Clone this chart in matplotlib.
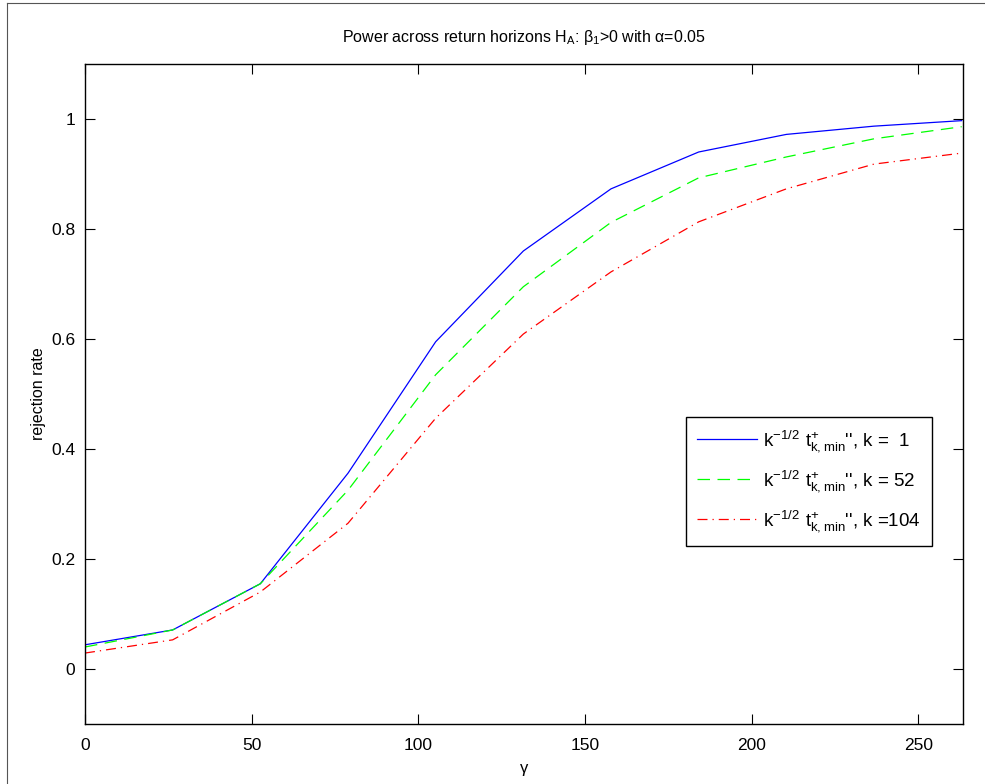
# power across return horizons, rejection rate vs gamma
import numpy as np
import matplotlib.pyplot as plt
from matplotlib.lines import Line2D

plt.rcParams['font.family'] = ['Liberation Sans', 'DejaVu Sans']
plt.rcParams['mathtext.default'] = 'regular'

gamma = [0, 26.3, 52.6, 78.9, 105.2, 131.5, 157.8, 184.1, 210.4, 236.7, 263]
rej_k1 = [0.044, 0.071, 0.155, 0.356, 0.595, 0.760, 0.873, 0.940, 0.972, 0.987, 0.997]
rej_k52 = [0.040, 0.071, 0.155, 0.325, 0.535, 0.695, 0.812, 0.893, 0.931, 0.964, 0.986]
rej_k104 = [0.029, 0.053, 0.140, 0.265, 0.456, 0.609, 0.722, 0.813, 0.873, 0.918, 0.938]
labels = [r"$k^{-1/2}\ t^{+}_{k,min}$'', k =  1",
          r"$k^{-1/2}\ t^{+}_{k,min}$'', k = 52",
          r"$k^{-1/2}\ t^{+}_{k,min}$'', k =104"]

fig = plt.figure(figsize=(9.85, 7.84), dpi=100)
ax = fig.add_axes([85/985, 60/784, 878/985, 660/784])

ax.plot(gamma, rej_k1, '-', color='#0000ff', lw=0.9, label=labels[0])
ax.plot(gamma, rej_k52, '--', color='#00ff00', lw=0.9, dashes=(10, 6), label=labels[1])
ax.plot(gamma, rej_k104, '-.', color='#ff0000', lw=0.9, dashes=(8, 4, 1, 4), label=labels[2])

ax.set_xlim(0, 263.4)
ax.set_ylim(-0.1, 1.1)
ax.set_xticks([0, 50, 100, 150, 200, 250])
ax.set_yticks([0, 0.2, 0.4, 0.6, 0.8, 1])
ax.set_yticklabels(['0', '0.2', '0.4', '0.6', '0.8', '1'])
ax.tick_params(direction='in', top=True, right=True, length=7, width=0.8,
               labelsize=12.5)
ax.tick_params(axis='x', pad=10)
ax.tick_params(axis='y', pad=7)
for s in ax.spines.values():
    s.set_linewidth(1.0)

ax.set_title(r'Power across return horizons H$_A$: β$_1$>0 with α=0.05',
             fontsize=11.5, pad=16)
ax.set_xlabel('γ', fontsize=12, labelpad=6)
ax.set_ylabel('rejection rate', fontsize=11.5)

leg = ax.legend(loc='upper left', bbox_to_anchor=(0.6845, 0.465), borderaxespad=0,
                fontsize=13.5, fancybox=False, edgecolor='black', framealpha=1,
                handlelength=3.2, handletextpad=0.3, labelspacing=0.75,
                borderpad=0.6)
leg.get_frame().set_linewidth(1.0)

# figure border (top and left edges only visible)
fig.add_artist(Line2D([7/985, 7/985], [0, 1 - 3/784], transform=fig.transFigure,
                      color='#555555', lw=0.8))
fig.add_artist(Line2D([7/985, 1], [1 - 3/784, 1 - 3/784], transform=fig.transFigure,
                      color='#555555', lw=0.8))

fig.savefig('out.png', dpi=100)
